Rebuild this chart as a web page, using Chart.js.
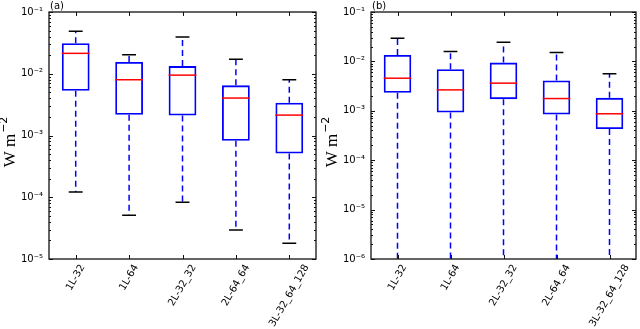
<!DOCTYPE html>
<html>
<head>
<meta charset="utf-8">
<script src="https://cdn.jsdelivr.net/npm/chart.js@4.4.0/dist/chart.umd.min.js"></script>
<style>
body { margin: 0; background: #fff; }
#wrap { display: flex; width: 640px; height: 329px; }
canvas { display: block; }
</style>
</head>
<body>
<div id="wrap">
  <canvas id="chartA" width="320" height="329"></canvas>
  <canvas id="chartB" width="320" height="329"></canvas>
</div>
<script>
const categories = ['1L-32', '1L-64', '2L-32_32', '2L-64_64', '3L-32_64_128'];

// panel (a) box stats
const lowA  = [1.22e-4, 5.1e-5, 8.3e-5, 2.95e-5, 1.8e-5];
const q1A   = [0.0053, 0.00217, 0.00211, 8.2e-4, 5.1e-4];
const medA  = [0.0214, 0.0080, 0.0095, 0.00404, 0.00214];
const q3A   = [0.0311, 0.0155, 0.0133, 0.00649, 0.0034];
const highA = [0.0487, 0.0203, 0.0394, 0.0171, 0.0080];

// panel (b) box stats - lower whiskers run off the bottom of the axis
const lowB  = [1e-7, 1e-7, 1e-7, 1e-7, 1e-7];
const q1B   = [0.00231, 9.2e-4, 0.00172, 8.4e-4, 4.27e-4];
const medB  = [0.00457, 0.00265, 0.00363, 0.00177, 8.7e-4];
const q3B   = [0.0135, 0.00695, 0.00946, 0.0041, 0.00183];
const highB = [0.0293, 0.0158, 0.0244, 0.0151, 0.0056];

const decadesA = [1e-5, 1e-4, 1e-3, 1e-2, 1e-1];
const decadesB = [1e-6, 1e-5, 1e-4, 1e-3, 1e-2, 1e-1];

const sup = { '-': '\u207B', '0': '\u2070', '1': '\u00B9', '2': '\u00B2', '3': '\u00B3',
  '4': '\u2074', '5': '\u2075', '6': '\u2076', '7': '\u2077', '8': '\u2078', '9': '\u2079' };

function powLabel(v) { // 1e-3 -> 10⁻³
  const e = String(Math.round(Math.log10(v)));
  return '10' + e.split('').map(c => sup[c]).join('');
}

// whiskers, caps and medians, drawn on top of the floating bars
const boxExtras = {
  id: 'boxExtras',
  afterDatasetsDraw(chart, args, opts) {
    const ctx = chart.ctx, a = chart.chartArea;
    const xs = chart.scales.x, ys = chart.scales.y;
    const bars = chart.getDatasetMeta(0).data;
    ctx.save();
    ctx.beginPath();
    ctx.rect(a.left, a.top, a.right - a.left, a.bottom - a.top);
    ctx.clip();
    for (let i = 0; i < categories.length; i++) {
      const x = xs.getPixelForValue(i);
      const hw = bars[i].width / 2;
      const yLo = ys.getPixelForValue(opts.low[i]);
      const yQ1 = ys.getPixelForValue(opts.q1[i]);
      const yMed = ys.getPixelForValue(opts.med[i]);
      const yQ3 = ys.getPixelForValue(opts.q3[i]);
      const yHi = ys.getPixelForValue(opts.high[i]);
      // dashed whiskers
      ctx.strokeStyle = '#0000ff';
      ctx.lineWidth = 1.5;
      ctx.setLineDash([6, 4]);
      ctx.beginPath();
      ctx.moveTo(x, yQ3); ctx.lineTo(x, yHi);
      ctx.moveTo(x, yQ1); ctx.lineTo(x, yLo);
      ctx.stroke();
      ctx.setLineDash([]);
      // caps
      ctx.strokeStyle = '#000';
      ctx.lineWidth = 1.5;
      ctx.beginPath();
      ctx.moveTo(x - hw / 2, yHi); ctx.lineTo(x + hw / 2, yHi);
      ctx.moveTo(x - hw / 2, yLo); ctx.lineTo(x + hw / 2, yLo);
      ctx.stroke();
      // median
      ctx.strokeStyle = '#ff0000';
      ctx.lineWidth = 1.5;
      ctx.beginPath();
      ctx.moveTo(x - hw, yMed); ctx.lineTo(x + hw, yMed);
      ctx.stroke();
    }
    ctx.restore();
  }
};

// axes frame, inside ticks, rotated category labels, panel tag and y title
const frame = {
  id: 'frame',
  afterDraw(chart, args, opts) {
    const ctx = chart.ctx, a = chart.chartArea;
    const xs = chart.scales.x, ys = chart.scales.y;
    ctx.save();
    ctx.strokeStyle = '#111';
    ctx.lineWidth = 1;
    ctx.beginPath();
    opts.decades.forEach(d => {
      const y = Math.round(ys.getPixelForValue(d)) + 0.5;
      ctx.moveTo(a.left, y); ctx.lineTo(a.left + 4, y);
      ctx.moveTo(a.right, y); ctx.lineTo(a.right - 4, y);
      for (let k = 2; k <= 9; k++) {
        const v = d * k;
        if (v > ys.max) continue;
        const ym = Math.round(ys.getPixelForValue(v)) + 0.5;
        ctx.moveTo(a.left, ym); ctx.lineTo(a.left + 2, ym);
        ctx.moveTo(a.right, ym); ctx.lineTo(a.right - 2, ym);
      }
    });
    for (let i = 0; i < categories.length; i++) {
      const x = Math.round(xs.getPixelForValue(i)) + 0.5;
      ctx.moveTo(x, a.bottom); ctx.lineTo(x, a.bottom - 4);
      ctx.moveTo(x, a.top); ctx.lineTo(x, a.top + 4);
    }
    ctx.stroke();
    ctx.lineWidth = 1.3;
    ctx.strokeRect(a.left, a.top, a.right - a.left, a.bottom - a.top);

    // category labels, rotated 60deg and centred under each tick (matplotlib style)
    ctx.fillStyle = '#000';
    ctx.font = '10px "DejaVu Sans"';
    const ang = Math.PI / 3, h = 10;
    categories.forEach((lab, i) => {
      const L = ctx.measureText(lab).width;
      const H = L * Math.sin(ang) + h * Math.cos(ang);
      ctx.save();
      ctx.translate(xs.getPixelForValue(i), a.bottom + 4 + H / 2);
      ctx.rotate(-ang);
      ctx.textAlign = 'center';
      ctx.textBaseline = 'middle';
      ctx.fillText(lab, 0, 0);
      ctx.restore();
    });

    // panel tag
    ctx.font = '10px "DejaVu Sans"';
    ctx.textAlign = 'left';
    ctx.textBaseline = 'alphabetic';
    ctx.fillText(opts.tag, a.left + 1, a.top - 3);

    // y title: W m^-2
    ctx.translate(a.left - 34, (a.top + a.bottom) / 2 + 7);
    ctx.rotate(-Math.PI / 2);
    ctx.font = '17px "Liberation Serif"';
    const w1 = ctx.measureText('W m').width;
    ctx.font = '11px "DejaVu Sans"';
    const w2 = ctx.measureText('\u22122').width;
    const start = -(w1 + w2) / 2;
    ctx.font = '17px "Liberation Serif"';
    ctx.fillText('W m', start, 0);
    ctx.font = '11px "DejaVu Sans"';
    ctx.fillText('\u22122', start + w1 + 1, -8);
    ctx.restore();
  }
};

function makeChart(id, tag, low, q1, med, q3, high, decades, leftWidth) {
  return new Chart(document.getElementById(id), {
    type: 'bar',
    data: {
      labels: categories,
      datasets: [{
        data: q1.map((v, i) => [v, q3[i]]),
        backgroundColor: 'rgba(255,255,255,0)',
        borderColor: '#0000ff',
        borderWidth: 1.8,
        borderSkipped: false,
        barPercentage: 0.52,
        categoryPercentage: 1
      }]
    },
    options: {
      responsive: false,
      animation: false,
      layout: { padding: { top: 12, right: 4, left: 0, bottom: 0 } },
      plugins: {
        legend: { display: false },
        tooltip: { enabled: false },
        boxExtras: { low, q1, med, q3, high },
        frame: { tag, decades }
      },
      scales: {
        x: {
          offset: true,
          grid: { display: false, drawTicks: false },
          border: { display: false },
          ticks: { display: false },
          afterFit(s) { s.height = 70; }
        },
        y: {
          type: 'logarithmic',
          min: decades[0],
          max: decades[decades.length - 1],
          grid: { display: false, drawTicks: false },
          border: { display: false },
          ticks: { padding: 6, color: '#000', font: { family: 'DejaVu Sans', size: 10 },
                   callback: v => powLabel(v) },
          afterBuildTicks(s) { s.ticks = decades.map(d => ({ value: d })); },
          afterFit(s) { s.width = leftWidth; }
        }
      }
    },
    plugins: [boxExtras, frame]
  });
}

makeChart('chartA', '(a)', lowA, q1A, medA, q3A, highA, decadesA, 49);
makeChart('chartB', '(b)', lowB, q1B, medB, q3B, highB, decadesB, 51);
</script>
</body>
</html>
